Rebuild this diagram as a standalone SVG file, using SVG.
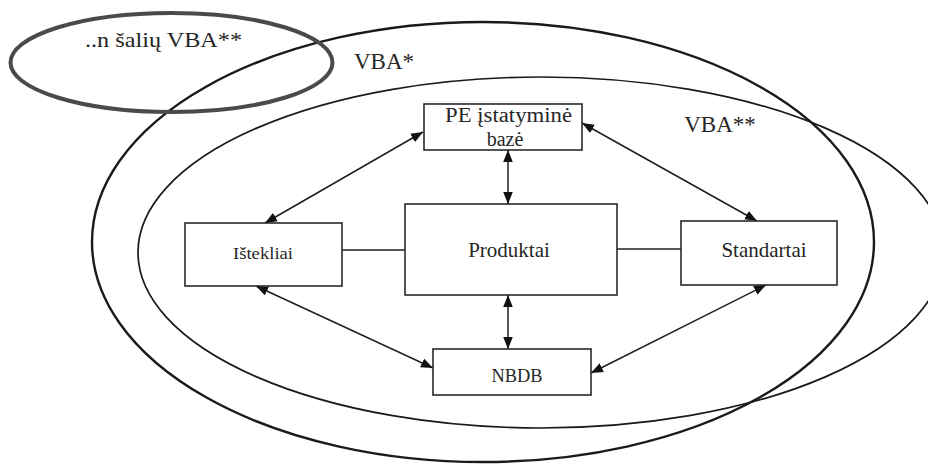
<svg xmlns="http://www.w3.org/2000/svg" width="928" height="466" viewBox="0 0 928 466">
  <style>
    .box { fill: #ffffff; stroke: #2a2a2a; stroke-width: 1.6; }
    .lbl { fill: #262626; text-anchor: middle; }
    .conn { stroke: #1e1e1e; stroke-width: 1.5; fill: none; }
    .arr { marker-start: url(#ah); marker-end: url(#ah); }
    .ring { fill: none; stroke: #1a1a1a; }
  </style>
  <defs>
    <marker id="ah" viewBox="0 0 10 8" refX="10" refY="4" markerWidth="12" markerHeight="10" markerUnits="userSpaceOnUse" orient="auto-start-reverse">
      <path d="M0,0 L10,4 L0,8 Z" fill="#111111"/>
    </marker>
  </defs>

  <rect width="928" height="466" fill="#ffffff"/>

  <g font-family="'Liberation Serif', 'Times New Roman', Tinos, 'DejaVu Serif', serif">
  <g id="vba-star">
    <ellipse class="ring" cx="483" cy="242" rx="391" ry="220" stroke-width="2.4"/>
    <text class="lbl" x="384" y="69" font-size="23">VBA*</text>
  </g>
  <g id="vba-double-star">
    <ellipse class="ring" cx="541" cy="252.5" rx="403" ry="175.5" stroke-width="1.7"/>
    <text class="lbl" x="720" y="132" font-size="23">VBA**</text>
  </g>
  <g id="n-saliu-vba">
    <ellipse cx="171.5" cy="62.5" rx="161" ry="49.5" fill="none" stroke="#4a4a4a" stroke-width="4"/>
    <text class="lbl" x="163.5" y="47" font-size="21" textLength="157" lengthAdjust="spacingAndGlyphs">..n šalių VBA**</text>
  </g>

  <g id="connectors">
    <line class="conn" x1="342" y1="250" x2="405" y2="250"/>
    <line class="conn" x1="617" y1="249" x2="681" y2="249"/>
    <line class="conn arr" x1="423" y1="132" x2="265" y2="223"/>
    <line class="conn arr" x1="582" y1="123" x2="757" y2="221"/>
    <line class="conn arr" x1="508" y1="150" x2="508" y2="204"/>
    <line class="conn arr" x1="508" y1="295" x2="508" y2="349"/>
    <line class="conn arr" x1="256" y1="286" x2="433" y2="368"/>
    <line class="conn arr" x1="766" y1="285" x2="591" y2="373"/>
  </g>

  <g id="pe-istatymine-baze">
    <rect class="box" x="424" y="104" width="158" height="46"/>
    <text class="lbl" x="508.5" y="122" font-size="20" textLength="127" lengthAdjust="spacingAndGlyphs">PE įstatyminė</text>
    <text class="lbl" x="505" y="146" font-size="20">bazė</text>
  </g>
  <g id="produktai">
    <rect class="box" x="405" y="204" width="212" height="91"/>
    <text class="lbl" x="509" y="257" font-size="21">Produktai</text>
  </g>
  <g id="istekliai">
    <rect class="box" x="185" y="223" width="157" height="63"/>
    <text class="lbl" x="263" y="259" font-size="17" textLength="60" lengthAdjust="spacingAndGlyphs">Ištekliai</text>
  </g>
  <g id="standartai">
    <rect class="box" x="681" y="221" width="156" height="64"/>
    <text class="lbl" x="764" y="257" font-size="21">Standartai</text>
  </g>
  <g id="nbdb">
    <rect class="box" x="433" y="349" width="158" height="46"/>
    <text class="lbl" x="517" y="382" font-size="18" textLength="51" lengthAdjust="spacingAndGlyphs">NBDB</text>
  </g>
  </g>
</svg>
